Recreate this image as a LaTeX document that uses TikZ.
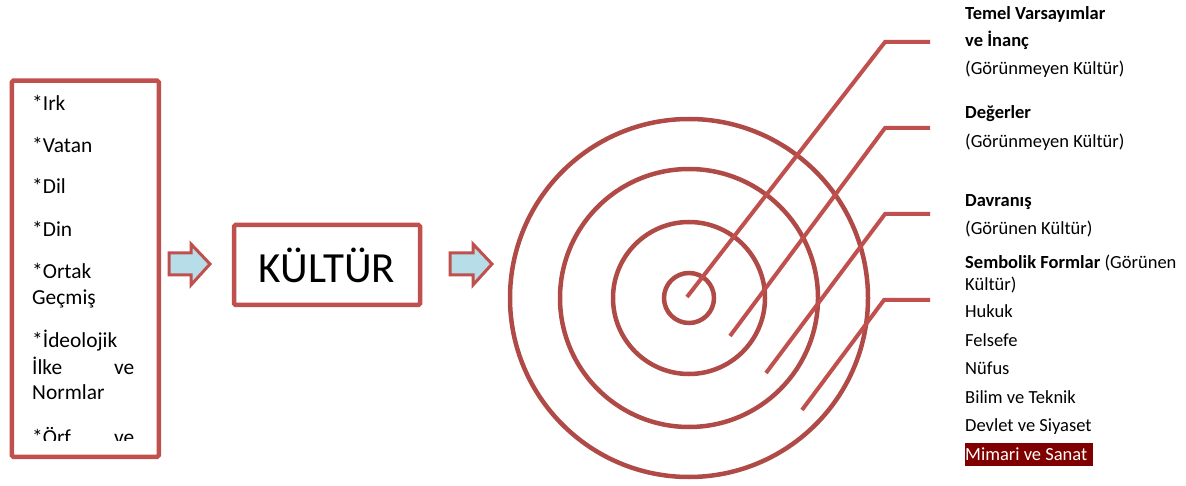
\documentclass[tikz,border=0pt]{standalone}
\usepackage{fontspec}
\setmainfont{Carlito}
\definecolor{linered}{HTML}{C0504D}
\definecolor{ringred}{HTML}{B04A47}
\definecolor{arrowfill}{HTML}{B6DDE8}
\definecolor{hl}{HTML}{800000}
\begin{document}
\begin{tikzpicture}[x=1pt,y=-1pt,
  frame/.style={draw=linered,line width=4.5pt,rounded corners=1.5pt},
  ring/.style={draw=ringred,line width=4.5pt},
  leader/.style={draw=linered,line width=4pt},
  blockarrow/.style={draw=linered,fill=arrowfill,line width=3pt},
  lefttxt/.style={anchor=base west,inner sep=0pt,font=\fontsize{21.4}{25}\selectfont,text width=102pt},
  righttxt/.style={anchor=base west,inner sep=0pt,font=\fontsize{18.5}{22}\selectfont}]
\useasboundingbox (0,0) rectangle (1186,486);
% left box
\node[frame,minimum width=147pt,minimum height=376pt,anchor=north west,inner sep=0pt] (lbox) at (9.5,78.5) {};
\begin{scope}
\clip (12,80) rectangle (155,440);
\node[lefttxt] (t1) at (32,111) {*Irk};
\node[lefttxt] (t2) at (32,153) {*Vatan};
\node[lefttxt] (t3) at (32,194) {*Dil};
\node[lefttxt] (t4) at (32,237) {*Din};
\node[lefttxt] (t5) at (32,279) {*Ortak};
\node[lefttxt] (t6) at (32,305) {Geçmiş};
\node[lefttxt] (t7) at (32,348) {*İdeolojik};
\node[lefttxt] (t8) at (32,374) {İlke\hfill ve};
\node[lefttxt] (t9) at (32,399) {Normlar};
\node[lefttxt] (t10) at (32,444) {*Örf\hfill ve};
\end{scope}
% arrows
\path[blockarrow] (169,253) -- (191,253) -- (191,244) -- (210,264) -- (191,285) -- (191,275) -- (169,275) -- cycle;
\path[blockarrow] (450,253) -- (473,253) -- (473,244) -- (492,264) -- (473,285) -- (473,275) -- (450,275) -- cycle;
% KULTUR box
\node[frame,minimum width=186pt,minimum height=80pt,inner sep=0pt,font=\fontsize{43}{48}\selectfont] (kultur) at (327,265) {KÜLTÜR};
% rings
\coordinate (c) at (689,298);
\draw[ring] (c) circle (25);
\draw[ring] (c) circle (76);
\draw[ring] (c) circle (129);
\draw[ring] (c) circle (179);
% leaders
\coordinate (a1) at (687,297); \coordinate (b1) at (885,42); \coordinate (e1) at (930,42);
\coordinate (a2) at (730,336); \coordinate (b2) at (885,128); \coordinate (e2) at (930,128);
\coordinate (a3) at (766,373); \coordinate (b3) at (885,214); \coordinate (e3) at (930,214);
\coordinate (a4) at (802,410); \coordinate (b4) at (884,300); \coordinate (e4) at (930,300);
\draw[leader] (a1) -- (b1) -- (e1);
\draw[leader] (a2) -- (b2) -- (e2);
\draw[leader] (a3) -- (b3) -- (e3);
\draw[leader] (a4) -- (b4) -- (e4);
% right texts
\node[righttxt] (r1) at (965,19.5) {\bfseries Temel Varsayımlar};
\node[righttxt] (r2) at (965,47) {\bfseries ve İnanç};
\node[righttxt] (r3) at (965,75) {(Görünmeyen Kültür)};
\node[righttxt] (r4) at (965,119) {\bfseries Değerler};
\node[righttxt] (r5) at (965,148) {(Görünmeyen Kültür)};
\node[righttxt] (r6) at (965,207) {\bfseries Davranış};
\node[righttxt] (r7) at (965,235) {(Görünen Kültür)};
\node[righttxt] (r8) at (965,269) {\textbf{Sembolik Formlar} (Görünen};
\node[righttxt] (r9) at (965,291) {Kültür)};
\node[righttxt] (r10) at (965,318) {Hukuk};
\node[righttxt] (r11) at (965,346) {Felsefe};
\node[righttxt] (r12) at (965,374) {Nüfus};
\node[righttxt] (r13) at (965,403) {Bilim ve Teknik};
\node[righttxt] (r14) at (965,431) {Devlet ve Siyaset};
\fill[hl] (965,443) rectangle (1093,466);
\node[righttxt,text=white] (r15) at (965,460) {Mimari ve Sanat};
\end{tikzpicture}
\end{document}
